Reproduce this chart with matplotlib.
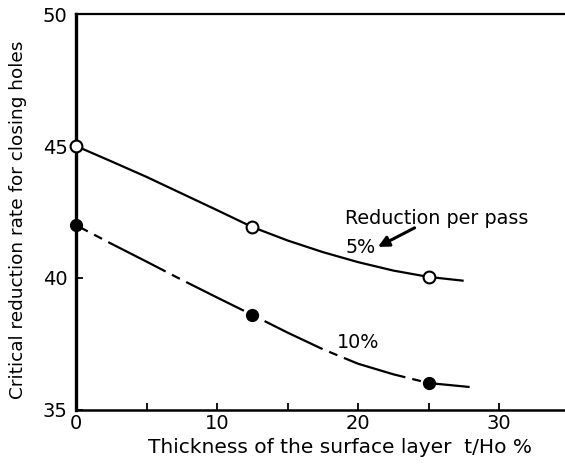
import matplotlib.pyplot as plt

plt.rcParams['font.family'] = 'DejaVu Sans'

# measured points (t/Ho %, critical reduction %)
thick_pts = [0, 12.5, 25]
red5_pts = [45.0, 41.93, 40.04]
red10_pts = [42.0, 38.6, 36.02]

# faired curves through the measurements
curve5_x = [0, 2.5, 5, 7.5, 10, 12.5, 15, 17.5, 20, 22.5, 25, 27.4]
curve5_y = [45.0, 44.42, 43.83, 43.2, 42.57, 41.93, 41.42, 40.98, 40.6, 40.28, 40.04, 39.9]
curve10_x = [0, 2.5, 5, 7.5, 10, 12.5, 15, 17.5, 20, 22.5, 25, 27.9]
curve10_y = [42.0, 41.3, 40.62, 39.93, 39.26, 38.6, 37.93, 37.3, 36.75, 36.35, 36.02, 35.87]

xticks = [0, 10, 20, 30]
xminor = [5, 15, 25]
yticks = [35, 40, 45, 50]

fig = plt.figure(figsize=(5.65, 4.68), dpi=100)
ax = fig.add_axes([0.1345, 0.124, 0.874, 0.846])

lw = 1.6
ax.plot(curve5_x, curve5_y, color='black', lw=lw, zorder=2)
ax.plot(curve10_x, curve10_y, color='black', lw=lw, zorder=2,
        linestyle=(23, (29, 3.2, 4.0, 3.2)))

ax.plot(thick_pts, red5_pts, linestyle='none', marker='o', ms=8.5,
        mfc='white', mec='black', mew=1.5, zorder=3, clip_on=False)
ax.plot(thick_pts, red10_pts, linestyle='none', marker='o', ms=8.5,
        mfc='black', mec='black', zorder=3, clip_on=False)

ax.text(19.1, 42.27, 'Reduction per pass', fontsize=13.8, va='center', ha='left')
ax.text(19.1, 41.14, '5%', fontsize=13.8, va='center', ha='left')
ax.text(18.5, 37.54, '10%', fontsize=13.8, va='center', ha='left')
ax.annotate('', xy=(21.4, 41.18), xytext=(24.0, 41.9),
            arrowprops=dict(arrowstyle='-|>', color='black', lw=2.2,
                            mutation_scale=16, shrinkA=0, shrinkB=0))

ax.set_xlim(0, 35)
ax.set_ylim(35, 50)
ax.set_xticks(xticks)
ax.set_xticks(xminor, minor=True)
ax.set_yticks(yticks)
ax.tick_params(axis='both', which='both', direction='in', length=5,
               width=1.3, labelsize=14)
ax.tick_params(axis='x', which='both', pad=3)
ax.tick_params(axis='y', pad=6)

ax.spines['right'].set_visible(False)
ax.spines['left'].set_linewidth(2.4)
ax.spines['bottom'].set_linewidth(1.8)
ax.spines['top'].set_linewidth(1.6)

ax.set_xlabel('Thickness of the surface layer  t/Ho %', fontsize=14.5, va='center')
ax.xaxis.set_label_coords(0.535, -0.096)
ax.set_ylabel('Critical reduction rate for closing holes', fontsize=13.3, va='center')
ax.yaxis.set_label_coords(-0.1175, 0.48)

fig.savefig('out.png', dpi=100)
